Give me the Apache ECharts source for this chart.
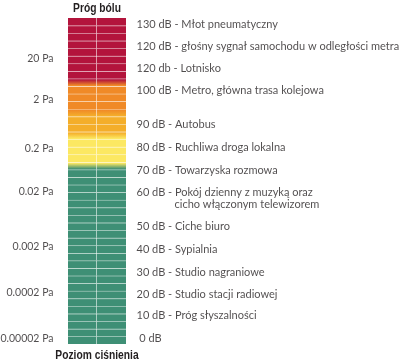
<!DOCTYPE html>
<html>
<head>
<meta charset="utf-8">
<script src="https://cdn.jsdelivr.net/npm/echarts@6/dist/echarts.min.js"></script>
<style>html,body{margin:0;padding:0;background:#fff}#c{width:400px;height:364px}</style>
</head>
<body>
<div id="c"></div>
<script>
// ---- DATA ----
const columnCount = 2;
const rowCount = 43;
// stripe bands from top to bottom: [band, number of rows]
const bandRows = [
  ['red', 8], ['red>orange', 1], ['orange', 3], ['orange>gold', 1], ['gold', 2],
  ['gold>yellow', 1], ['yellow', 3], ['yellow>green', 1], ['green', 23]
];
const paLabels = ['20 Pa', '2 Pa', '0.2 Pa', '0.02 Pa', '0.002 Pa', '0.0002 Pa', '0.00002 Pa'];
const paRows = [37.7, 32.2, 25.8, 20.1, 12.8, 6.8, 0.75];
const dbLabels = [
  '130 dB - Młot pneumatyczny',
  '120 dB - głośny sygnał samochodu w odległości metra',
  '120 db - Lotnisko',
  '100 dB - Metro, główna trasa kolejowa',
  '90 dB - Autobus',
  '80 dB - Ruchliwa droga lokalna',
  '70 dB - Towarzyska rozmowa',
  '60 dB - Pokój dzienny z muzyką oraz\ncicho włączonym telewizorem',
  '50 dB - Ciche biuro',
  '40 dB - Sypialnia',
  '30 dB - Studio nagraniowe',
  '20 dB - Studio stacji radiowej',
  '10 dB - Próg słyszalności',
  ' 0 dB'
];
const dbRows = [42.2, 39.2, 36.3, 33.4, 28.9, 25.9, 22.9, 19.2, 15.5, 12.5, 9.5, 6.6, 3.7, 0.75];
const topTitle = 'Próg bólu';
const bottomTitle = 'Poziom ciśnienia';

// ---- STYLE ----
const bandColor = {
  red: '#b3143c', orange: '#f08a27', gold: '#f4ae2a', yellow: '#fce862', green: '#3e8f75'
};
const textColor = '#231f20';
const bodyFont = 'Lato';
const titleFont = '"Liberation Sans", Arial, sans-serif';

function fillFor(band) {
  if (band.indexOf('>') < 0) return bandColor[band];
  const [a, b] = band.split('>');
  return new echarts.graphic.LinearGradient(0, 0, 0, 1, [
    { offset: 0, color: bandColor[a] }, { offset: 0.15, color: bandColor[a] },
    { offset: 0.9, color: bandColor[b] }, { offset: 1, color: bandColor[b] }
  ]);
}

// expand bands into rows, row 0 = bottom
const rowBand = [];
bandRows.forEach(([b, n]) => { for (let i = 0; i < n; i++) rowBand.push(b); });
rowBand.reverse();
const cells = [];
for (let r = 0; r < rowCount; r++) {
  for (let c = 0; c < columnCount; c++) cells.push([c, r, r]);
}

function titleText(text, y) {
  return {
    type: 'text', x: 97, y: y, scaleX: 0.79, silent: true,
    style: { text: text, fill: textColor, font: 'bold 13px ' + titleFont,
      textAlign: 'center', textVerticalAlign: 'middle' }
  };
}

const chart = echarts.init(document.getElementById('c'), null, { renderer: 'canvas' });
chart.setOption({
  animation: false,
  backgroundColor: '#fff',
  graphic: [ titleText(topTitle, 8), titleText(bottomTitle, 355) ],
  grid: { left: 68, right: 274, top: 18, bottom: 20 },
  xAxis: { type: 'value', min: 0, max: columnCount, show: false },
  yAxis: { type: 'value', min: 0, max: rowCount, show: false },
  series: [
    {
      type: 'custom',
      data: cells,
      renderItem: function (params, api) {
        const c = api.value(0), r = api.value(1);
        const p0 = api.coord([c, r + 1]);
        const p1 = api.coord([c + 1, r]);
        const x = p0[0], y = p0[1], w = p1[0] - p0[0], h = p1[1] - p0[1];
        const children = [{
          type: 'rect', shape: { x: x, y: y, width: w, height: h },
          style: { fill: fillFor(rowBand[r]) }
        }];
        if (r < rowCount - 1) {
          children.push({
            type: 'line', shape: { x1: x, y1: y, x2: x + w, y2: y },
            style: { stroke: r % 2 ? 'rgba(255,255,255,0.95)' : 'rgba(255,255,255,0.6)', lineWidth: 1.2 }
          });
        }
        if (c < columnCount - 1) {
          children.push({
            type: 'line', shape: { x1: x + w, y1: y, x2: x + w, y2: y + h },
            style: { stroke: 'rgba(255,255,255,0.95)', lineWidth: 1.2 }
          });
        }
        return { type: 'group', children: children };
      }
    },
    {
      type: 'scatter', symbolSize: 1, itemStyle: { color: 'rgba(0,0,0,0)' },
      data: paRows.map((y, i) => ({ value: [0, y], name: paLabels[i] })),
      label: { show: true, position: 'left', distance: 14, formatter: p => p.name,
        fontFamily: bodyFont, fontSize: 10.5, color: textColor }
    },
    {
      type: 'scatter', symbolSize: 1, itemStyle: { color: 'rgba(0,0,0,0)' },
      data: dbRows.map((y, i) => ({ value: [columnCount, y], name: dbLabels[i] })),
      label: { show: true, position: 'right', distance: 10,
        formatter: function (p) {
          const parts = p.name.split('\n');
          if (parts.length === 1) return '{a|' + parts[0] + '}';
          return '{a|' + parts[0] + '}\n{b|' + parts[1] + '}';
        },
        rich: {
          a: { fontFamily: bodyFont, fontSize: 11, color: textColor, lineHeight: 12 },
          b: { fontFamily: bodyFont, fontSize: 11, color: textColor, lineHeight: 12, padding: [0, 0, 0, 38] }
        }
      }
    }
  ]
});
</script>
</body>
</html>
